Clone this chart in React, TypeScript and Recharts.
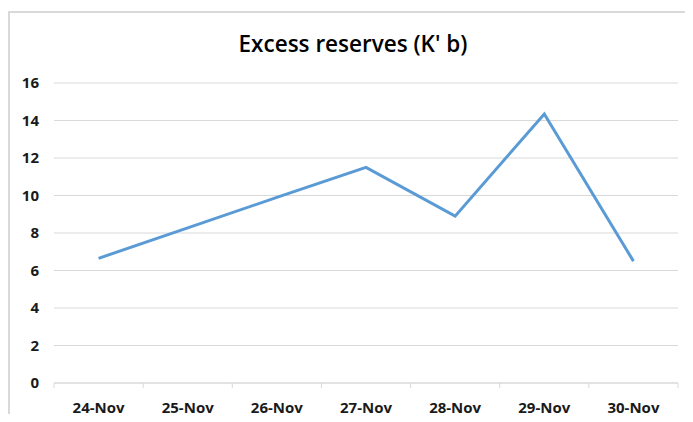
import { LineChart, Line, XAxis, YAxis, CartesianGrid } from 'recharts'

const DATES = ['24-Nov', '25-Nov', '26-Nov', '27-Nov', '28-Nov', '29-Nov', '30-Nov']
const RESERVES = [6.65, 8.27, 9.9, 11.5, 8.9, 14.35, 6.5]
const Y_TICKS = [0, 2, 4, 6, 8, 10, 12, 14, 16]

// ticks at the centre of each day carry the label, ticks on the edges draw the little marks
const X_TICKS = [-0.5, 0, 0.5, 1, 1.5, 2, 2.5, 3, 3.5, 4, 4.5, 5, 5.5, 6, 6.5]

const FONT = '"Open Sans", "Noto Sans", sans-serif'
const GRID = '#d9d9d9'

const data = DATES.map((date, i) => ({ i, date, value: RESERVES[i] }))

function DayTick(props: any) {
  const { x, y, payload } = props
  const v = payload.value as number
  if (Number.isInteger(v)) {
    return (
      <text
        x={x}
        y={y + 30}
        textAnchor="middle"
        fontFamily={FONT}
        fontSize={15}
        fontWeight={700}
        fill="#1a1a1a"
      >
        {DATES[v]}
      </text>
    )
  }
  return <line x1={x} x2={x} y1={y} y2={y + 5} stroke={GRID} strokeWidth={1} />
}

export default function App() {
  return (
    <div style={{ position: 'relative', width: 693, height: 422, margin: -8, background: '#fff', overflow: 'hidden' }}>
      <div
        style={{
          position: 'absolute',
          left: 8,
          top: 11,
          width: 720,
          height: 440,
          border: `2px solid ${GRID}`,
          boxSizing: 'border-box',
        }}
      />
      <div
        style={{
          position: 'absolute',
          left: 0,
          width: 706,
          top: 28,
          textAlign: 'center',
          fontFamily: FONT,
          fontSize: 22.5,
          fontWeight: 600,
          color: '#000',
          lineHeight: '32px',
        }}
      >
        Excess reserves (K' b)
      </div>
      <div style={{ position: 'absolute', left: 0, top: 0 }}>
        <LineChart width={693} height={422} data={data} margin={{ top: 83, right: 15, left: 8, bottom: 0 }}>
          <CartesianGrid horizontal vertical={false} stroke={GRID} strokeWidth={1} />
          <XAxis
            dataKey="i"
            type="number"
            domain={[-0.5, 6.5]}
            ticks={X_TICKS}
            interval={0}
            height={39}
            tickLine={false}
            tickSize={0}
            tickMargin={0}
            axisLine={{ stroke: GRID }}
            tick={<DayTick />}
          />
          <YAxis
            width={46}
            domain={[0, 16]}
            ticks={Y_TICKS}
            interval={0}
            axisLine={false}
            tickLine={false}
            tickSize={0}
            tickMargin={15}
            tick={{ fontFamily: FONT, fontSize: 15, fontWeight: 700, fill: '#1a1a1a' }}
          />
          <Line
            type="linear"
            dataKey="value"
            stroke="#5b9bd5"
            strokeWidth={3}
            dot={false}
            activeDot={false}
            isAnimationActive={false}
          />
        </LineChart>
      </div>
    </div>
  )
}
